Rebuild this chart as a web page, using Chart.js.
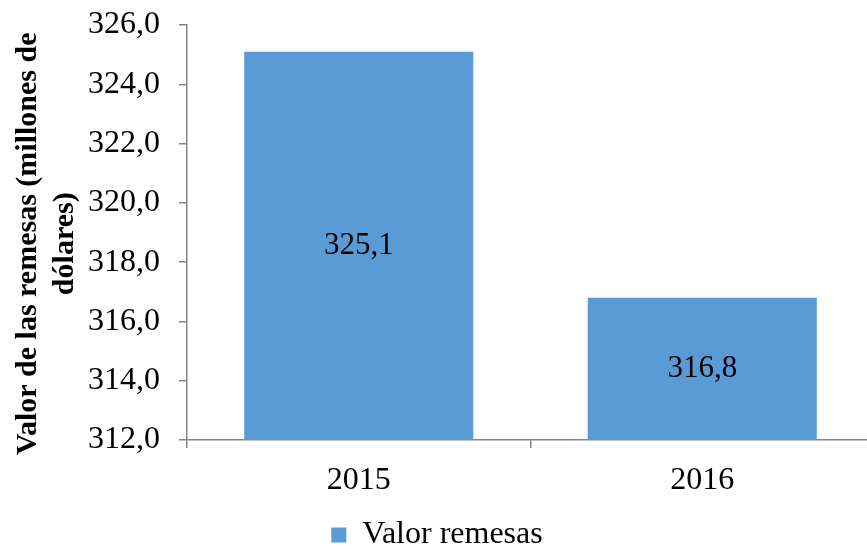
<!DOCTYPE html>
<html>
<head>
<meta charset="utf-8">
<script src="https://cdn.jsdelivr.net/npm/chart.js@4/dist/chart.umd.min.js"></script>
<style>
  html, body { margin: 0; padding: 0; background: #fff; overflow: hidden; }
  #wrap { width: 874px; height: 550px; }
</style>
</head>
<body>
<div id="wrap"><canvas id="myChart"></canvas></div>
<script>
// Datos del gráfico
const categorias = ['2015', '2016'];
const valores = [325.1, 316.8];
const ejeMin = 312;
const ejeMax = 326;
const paso = 2;

const fuente = "'Liberation Serif', 'Times New Roman', serif";
const gris = '#868686';

function coma(v, dec) {
    return Number(v).toFixed(dec).replace('.', ',');
}

// Etiquetas dentro de las barras
const etiquetas = {
    id: 'etiquetas',
    afterDatasetsDraw(chart) {
        const c = chart.ctx;
        const meta = chart.getDatasetMeta(0);
        const yBase = chart.scales.y.getPixelForValue(ejeMin);
        c.save();
        c.font = '31px ' + fuente;
        c.fillStyle = '#000';
        c.textAlign = 'center';
        c.textBaseline = 'middle';
        meta.data.forEach((bar, i) => {
            const p = bar.getProps(['x', 'y'], true);
            c.fillText(coma(valores[i], 1), p.x, (p.y + yBase) / 2);
        });
        c.restore();
    }
};

const data = {
    labels: categorias,
    datasets: [{
        label: 'Valor remesas',
        data: valores,
        backgroundColor: '#5B9BD5',
        borderWidth: 0,
        categoryPercentage: 1.0,
        barPercentage: 0.667
    }]
};

const options = {
    responsive: true,
    maintainAspectRatio: false,
    animation: false,
    layout: { padding: { top: 25, left: 0, right: 0, bottom: 0 } },
    plugins: {
        legend: {
            position: 'bottom',
            maxHeight: 33,
            labels: {
                font: { family: fuente, size: 32, lineHeight: 0.8 },
                color: '#000',
                boxWidth: 15,
                boxHeight: 15,
                padding: 2
            }
        },
        tooltip: { enabled: false }
    },
    scales: {
        x: {
            offset: true,
            afterFit(scale) { scale.height = 77; },
            grid: { offset: true, drawOnChartArea: false, drawTicks: true, tickLength: 8, color: gris, lineWidth: 1.5 },
            border: { color: gris, width: 1.5 },
            ticks: { font: { family: fuente, size: 32, lineHeight: 1.0 }, color: '#000', padding: 17 }
        },
        y: {
            min: ejeMin,
            max: ejeMax,
            afterFit(scale) { scale.width = 187; },
            grid: { drawOnChartArea: false, drawTicks: true, tickLength: 8, color: gris, lineWidth: 1.5 },
            border: { color: gris, width: 1.5 },
            ticks: {
                stepSize: paso,
                font: { family: fuente, size: 32, lineHeight: 0.35 },
                color: '#000',
                padding: 19,
                callback: v => coma(v, 1)
            },
            title: {
                display: true,
                text: ['Valor de las remesas (millones de   ', 'dólares)   '],
                font: { family: fuente, size: 30, weight: 'bold', lineHeight: 1.25 },
                color: '#000',
                padding: { top: 9, bottom: 0 }
            }
        }
    }
};

const ctx = document.getElementById('myChart').getContext('2d');
const myChart = new Chart(ctx, {
    type: 'bar',
    data: data,
    options: options,
    plugins: [etiquetas]
});
</script>
</body>
</html>
